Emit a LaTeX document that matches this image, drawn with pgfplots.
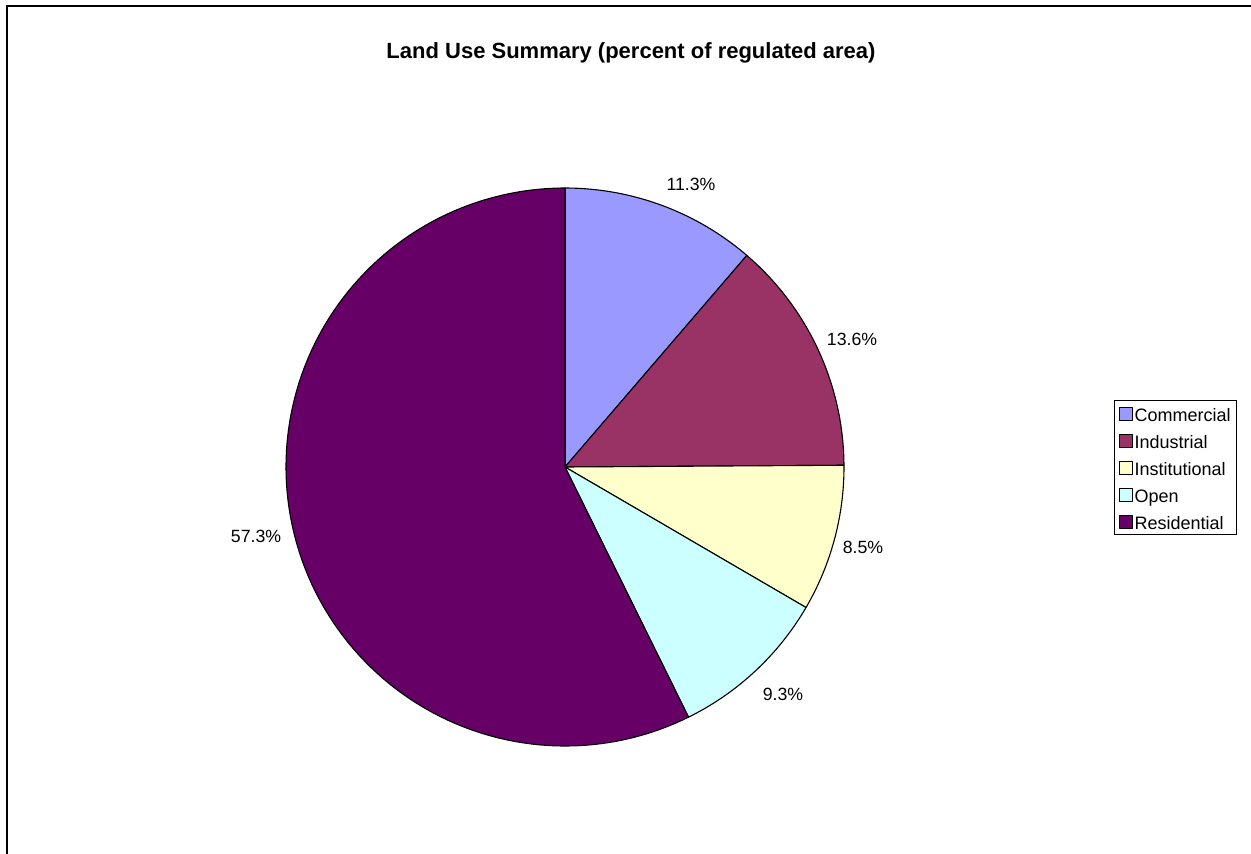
\documentclass[border=0pt]{standalone}
\usepackage{pgfplots}
\pgfplotsset{compat=1.18}
\usepackage{pgfplotstable}
\usepackage{fontspec}
\setmainfont{Liberation Sans}
\definecolor{cCom}{HTML}{9999FF}
\definecolor{cInd}{HTML}{993366}
\definecolor{cIns}{HTML}{FFFFCC}
\definecolor{cOpe}{HTML}{CCFFFF}
\definecolor{cRes}{HTML}{660066}
\pgfplotstableread{
name value
Commercial 11.3
Industrial 13.6
Institutional 8.5
Open 9.3
Residential 57.3
}\piedata
\begin{document}
\begin{tikzpicture}
\pgfplotstablegetelem{0}{value}\of\piedata\let\vA\pgfplotsretval
\pgfplotstablegetelem{1}{value}\of\piedata\let\vB\pgfplotsretval
\pgfplotstablegetelem{2}{value}\of\piedata\let\vC\pgfplotsretval
\pgfplotstablegetelem{3}{value}\of\piedata\let\vD\pgfplotsretval
\pgfplotstablegetelem{4}{value}\of\piedata\let\vE\pgfplotsretval
\pgfmathsetmacro\cA{3.6*\vA}
\pgfmathsetmacro\cB{\cA+3.6*\vB}
\pgfmathsetmacro\cC{\cB+3.6*\vC}
\pgfmathsetmacro\cD{\cC+3.6*\vD}
\pgfmathsetmacro\cE{\cD+3.6*\vE}
\begin{axis}[
  scale only axis, width=1251pt, height=854pt,
  xmin=0, xmax=1251, ymin=0, ymax=854, y dir=reverse,
  hide axis, clip=false,
  legend image code/.code={\draw[#1, draw=black, line width=1pt] (0pt,-6.5pt) rectangle (13pt,6.5pt);},
  legend style={at={(axis cs:1114,400)}, anchor=north west, draw=black, line width=1pt,
    font=\fontsize{18pt}{20pt}\selectfont, inner xsep=4pt, inner ysep=4.6pt,
    row sep=10.2pt, nodes={inner xsep=2pt, inner ysep=0pt, text height=16.8pt, text depth=0pt}},
  legend cell align=left,
  every axis plot/.append style={draw=black, line width=1.1pt, line join=round},
]
\draw[line width=2pt] (axis cs:7,6) rectangle (axis cs:1270,880);
\coordinate (sw) at (axis cs:0,854);
\coordinate (ne) at (axis cs:1251,0);
\addplot[fill=cCom, domain=0:\cA, samples=60] ({565+279*sin(x)},{467-279*cos(x)}) -- (axis cs:565,467) -- cycle;
\addlegendentry{Commercial}
\addplot[fill=cInd, domain=\cA:\cB, samples=60] ({565+279*sin(x)},{467-279*cos(x)}) -- (axis cs:565,467) -- cycle;
\addlegendentry{Industrial}
\addplot[fill=cIns, domain=\cB:\cC, samples=60] ({565+279*sin(x)},{467-279*cos(x)}) -- (axis cs:565,467) -- cycle;
\addlegendentry{Institutional}
\addplot[fill=cOpe, domain=\cC:\cD, samples=60] ({565+279*sin(x)},{467-279*cos(x)}) -- (axis cs:565,467) -- cycle;
\addlegendentry{Open}
\addplot[fill=cRes, domain=\cD:\cE, samples=200] ({565+279*sin(x)},{467-279*cos(x)}) -- (axis cs:565,467) -- cycle;
\addlegendentry{Residential}
\node[font=\bfseries\fontsize{22pt}{26pt}\selectfont] at (axis cs:631,53) {Land Use Summary (percent of regulated area)};
\begin{scope}[every node/.style={font=\fontsize{17.7pt}{20pt}\selectfont, inner sep=0pt}]
\node at (axis cs:691,184) {11.3\%};
\node at (axis cs:852,339) {13.6\%};
\node at (axis cs:863,547) {8.5\%};
\node at (axis cs:783,694) {9.3\%};
\node at (axis cs:256,536) {57.3\%};
\end{scope}
\end{axis}
\pgfresetboundingbox
\useasboundingbox (sw) rectangle (ne);
\end{tikzpicture}
\end{document}
